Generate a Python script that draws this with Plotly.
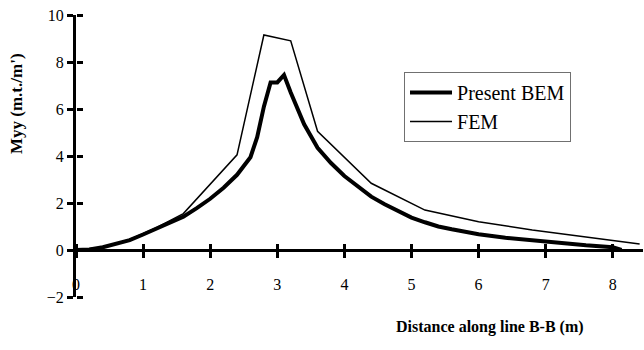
import plotly.graph_objects as go

# Present BEM
bem_x = [0, 0.2, 0.4, 0.6, 0.8, 1.0, 1.2, 1.4, 1.6, 1.8, 2.0, 2.2, 2.4, 2.6, 2.7, 2.8, 2.9, 3.0,
         3.1, 3.2, 3.3, 3.4, 3.6, 3.8, 4.0, 4.2, 4.4, 4.6, 4.8, 5.0, 5.2, 5.4, 5.6, 5.8, 6.0,
         6.4, 6.8, 7.2, 7.6, 8.0, 8.13]
bem_y = [0, 0.02, 0.12, 0.25, 0.42, 0.66, 0.9, 1.15, 1.42, 1.78, 2.18, 2.65, 3.2, 3.95, 4.8, 6.1, 7.13, 7.13,
         7.45, 6.7, 6.0, 5.35, 4.35, 3.7, 3.15, 2.7, 2.27, 1.95, 1.65, 1.38, 1.18, 1.0, 0.88, 0.77, 0.67,
         0.52, 0.4, 0.3, 0.2, 0.12, 0]

# FEM
fem_x = [0, 0.4, 0.8, 1.2, 1.6, 2.0, 2.4, 2.8, 3.2, 3.6, 4.4, 5.2, 6.0, 6.8, 7.6, 8.0, 8.4]
fem_y = [0, 0.12, 0.45, 0.95, 1.55, 2.8, 4.05, 9.15, 8.9, 5.05, 2.84, 1.7, 1.2, 0.85, 0.55, 0.43, 0.26]

x_ticks = [0, 1, 2, 3, 4, 5, 6, 7, 8]
y_ticks = [-2, 0, 2, 4, 6, 8, 10]

FONT = "Times New Roman, Liberation Serif, serif"

fig = go.Figure()
fig.add_trace(go.Scatter(x=bem_x, y=bem_y, mode="lines", name="Present BEM",
                         line=dict(color="black", width=4)))
fig.add_trace(go.Scatter(x=fem_x, y=fem_y, mode="lines", name="FEM",
                         line=dict(color="black", width=1.5)))
# invisible traces for the overlay axes (upper/right tick halves)
fig.add_trace(go.Scatter(x=[0], y=[0], xaxis="x2", yaxis="y", mode="markers",
                         marker=dict(opacity=0), showlegend=False, hoverinfo="skip"))
fig.add_trace(go.Scatter(x=[0], y=[0], xaxis="x", yaxis="y2", mode="markers",
                         marker=dict(opacity=0), showlegend=False, hoverinfo="skip"))

xr = [0, 8.45]
yr = [-2, 10]
fig.update_layout(
    width=644, height=350,
    margin=dict(l=76, r=1, t=15, b=53),
    plot_bgcolor="white", paper_bgcolor="white",
    font=dict(family=FONT, size=16, color="black"),
    xaxis=dict(range=xr, tickvals=x_ticks, showgrid=False, zeroline=False,
               anchor="free", position=1/6, showline=True, linecolor="black", linewidth=3,
               ticks="outside", ticklen=6, tickwidth=3, tickcolor="black",
               ticklabelstandoff=13, tickfont=dict(size=16, family=FONT)),
    xaxis2=dict(range=xr, tickvals=x_ticks, overlaying="x", anchor="free", position=1/6,
                side="top", showgrid=False, zeroline=False, showline=False, showticklabels=False,
                ticks="outside", ticklen=6, tickwidth=3, tickcolor="black"),
    yaxis=dict(range=yr, tickvals=y_ticks, showgrid=False, zeroline=False,
               showline=True, linecolor="black", linewidth=3,
               ticks="outside", ticklen=6, tickwidth=3, tickcolor="black",
               tickfont=dict(size=16, family=FONT)),
    yaxis2=dict(range=yr, tickvals=y_ticks, overlaying="y", anchor="free", position=0,
                side="right", showgrid=False, zeroline=False, showline=False, showticklabels=False,
                ticks="outside", ticklen=6, tickwidth=3, tickcolor="black"),
    legend=dict(x=0.5785, y=0.798, xanchor="left", yanchor="top",
                bordercolor="#707070", borderwidth=1, bgcolor="white",
                font=dict(family=FONT, size=20), tracegroupgap=0, itemwidth=42),
    showlegend=True,
)

fig.add_annotation(text="<b>Myy (m.t./m')</b>", xref="paper", yref="paper",
                   x=(17 - 76) / 567, y=(297 - 104) / 282, textangle=-90, showarrow=False,
                   xanchor="center", yanchor="middle", font=dict(family=FONT, size=17))
fig.add_annotation(text="<b>Distance along line B-B (m)</b>", xref="paper", yref="paper",
                   x=(490 - 76) / 567, y=(297 - 327) / 282, showarrow=False,
                   xanchor="center", yanchor="middle", font=dict(family=FONT, size=16))

fig.write_html("out.html")
